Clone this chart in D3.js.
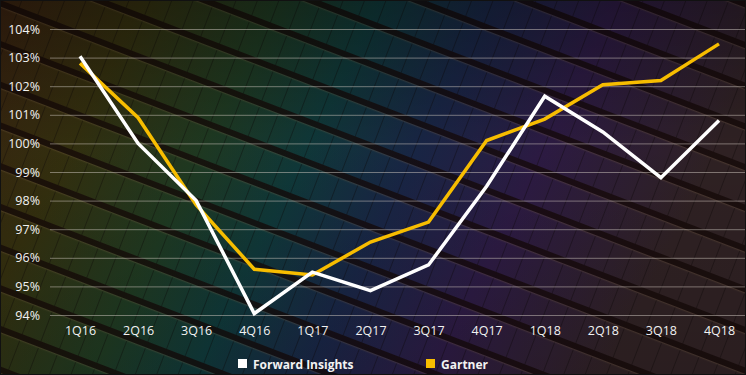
<!DOCTYPE html>
<html>
<head>
<style>
  body { margin: 0; background: #000; }
  svg { display: block; }
  .tick text { font-family: "Open Sans", sans-serif; }
</style>
<script src="https://cdn.jsdelivr.net/npm/d3@7"></script>
</head>
<body>
<svg id="chart"></svg>
<script>
  let quarters = ["1Q16", "2Q16", "3Q16", "4Q16", "1Q17", "2Q17", "3Q17", "4Q17", "1Q18", "2Q18", "3Q18", "4Q18"];
  let forwardInsights = [103.05, 100.0, 98.0, 94.05, 95.5, 94.85, 95.75, 98.5, 101.65, 100.4, 98.8, 100.8];
  let gartner = [102.8, 100.9, 97.85, 95.6, 95.4, 96.55, 97.25, 100.1, 100.85, 102.05, 102.2, 103.48];
  let yTicks = [94, 95, 96, 97, 98, 99, 100, 101, 102, 103, 104];
  let seriesNames = ["Forward Insights", "Gartner"];
  let seriesColors = ["#ffffff", "#f7bd00"];

  let width = 746, height = 375;
  let svg = d3.select("#chart").attr("width", width).attr("height", height);
  let defs = svg.append("defs");

  // background: wafer photo approximated by gradients + stripes
  let bg = defs.append("linearGradient").attr("id", "bg").attr("x1", 0).attr("x2", 1).attr("y1", 0).attr("y2", 0.25);
  [["0%", "#3a2210"], ["18%", "#34300f"], ["35%", "#1f3a22"], ["48%", "#10393a"], ["62%", "#192646"], ["78%", "#2d1b44"], ["100%", "#302224"]]
    .forEach(s => bg.append("stop").attr("offset", s[0]).attr("stop-color", s[1]));

  let shade = defs.append("linearGradient").attr("id", "shade").attr("x1", 0).attr("x2", 0).attr("y1", 0).attr("y2", 1);
  shade.append("stop").attr("offset", "0%").attr("stop-color", "#000").attr("stop-opacity", 0.3);
  shade.append("stop").attr("offset", "40%").attr("stop-color", "#000").attr("stop-opacity", 0.03);
  shade.append("stop").attr("offset", "100%").attr("stop-color", "#000").attr("stop-opacity", 0.12);

  let stripes = defs.append("pattern").attr("id", "stripes")
    .attr("patternUnits", "userSpaceOnUse").attr("width", 20).attr("height", 38)
    .attr("patternTransform", "rotate(21)");
  stripes.append("rect").attr("x", 0).attr("y", 0).attr("width", 20).attr("height", 6)
    .attr("fill", "#140806").attr("opacity", 0.75);
  stripes.append("rect").attr("x", 0).attr("y", 6).attr("width", 20).attr("height", 1.2)
    .attr("fill", "#8a7050").attr("opacity", 0.25);
  stripes.append("rect").attr("x", 0).attr("y", 7).attr("width", 0.8).attr("height", 31)
    .attr("fill", "#0a0404").attr("opacity", 0.45);

  svg.append("rect").attr("width", width).attr("height", height).attr("fill", "url(#bg)");
  svg.append("rect").attr("width", width).attr("height", height).attr("fill", "url(#stripes)");
  svg.append("rect").attr("width", width).attr("height", height).attr("fill", "url(#shade)");

  let x = d3.scalePoint().domain(quarters).range([80, 719]);
  let y = d3.scaleLinear().domain([94, 104]).range([315, 29]);

  // y axis with gridlines
  let yAxis = svg.append("g").attr("transform", "translate(50,0)")
    .call(d3.axisLeft(y).tickValues(yTicks).tickSize(-(width - 50)).tickPadding(10).tickFormat(d => d + "%"));
  yAxis.select(".domain").remove();
  yAxis.selectAll(".tick line").attr("stroke", "#d0c8c0").attr("stroke-opacity", 0.5).attr("stroke-width", 1);
  yAxis.selectAll(".tick text").attr("fill", "#f2f2f2").attr("font-size", 12.5);

  // x axis
  let xAxis = svg.append("g").attr("transform", "translate(0,321)")
    .call(d3.axisBottom(x).tickSize(0).tickPadding(5));
  xAxis.select(".domain").remove();
  xAxis.selectAll(".tick text").attr("fill", "#f2f2f2").attr("font-size", 12.5);

  let line = d3.line().x((d, i) => x(quarters[i])).y(d => y(d));
  [gartner, forwardInsights].forEach((vals, k) => {
    svg.append("path").datum(vals)
      .attr("d", line)
      .attr("fill", "none")
      .attr("stroke", k === 0 ? seriesColors[1] : seriesColors[0])
      .attr("stroke-width", 3.5)
      .attr("stroke-linejoin", "miter");
  });

  // legend
  let legendX = [238, 426];
  seriesNames.forEach((name, i) => {
    let g = svg.append("g").attr("transform", `translate(${legendX[i]},364)`);
    g.append("rect").attr("x", 0).attr("y", -5).attr("width", 9).attr("height", 9).attr("fill", seriesColors[i]);
    g.append("text").attr("x", 15).attr("y", 4.5)
      .attr("fill", "#f2f2f2").attr("font-family", "'Open Sans', sans-serif")
      .attr("font-weight", "bold").attr("font-size", 12).text(name);
  });

  svg.append("rect").attr("x", 0.5).attr("y", 0.5).attr("width", width - 1).attr("height", height - 1)
    .attr("fill", "none").attr("stroke", "#111").attr("stroke-width", 1);
</script>
</body>
</html>
